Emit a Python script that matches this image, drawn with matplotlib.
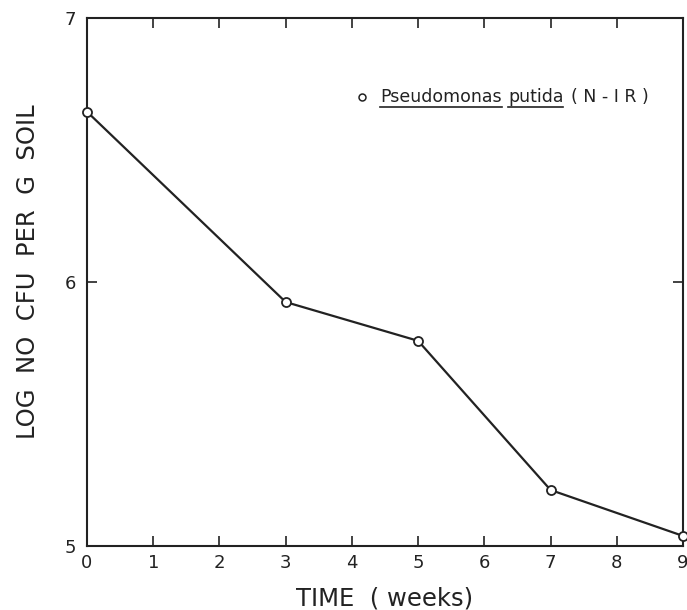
import matplotlib
matplotlib.use("Agg")
import matplotlib.pyplot as plt
from matplotlib.lines import Line2D

weeks = [0, 3, 5, 7, 9]
log_cfu = [6.645, 5.924, 5.777, 5.212, 5.038]
xticks = list(range(0, 10))
yticks = [5, 6, 7]

plt.rcParams['font.family'] = ['DejaVu Sans']

fig = plt.figure(figsize=(6.87, 6.10), dpi=100)
ax = fig.add_axes([0.1266, 0.105, 0.8676, 0.8655])

ax.plot(weeks, log_cfu, color='#222222', lw=1.6, marker='o', ms=6.5,
        mfc='white', mec='#222222', mew=1.3, clip_on=False, zorder=3)

ax.set_xlim(0, 9)
ax.set_ylim(5, 7)
ax.set_xticks(xticks)
ax.set_xticklabels([str(t) for t in xticks])
ax.set_yticks(yticks)
ax.set_yticklabels([str(t) for t in yticks])
ax.tick_params(direction='in', length=7, width=1.2, labelsize=13, color='#222222',
               top=True, right=True, labelcolor='#222222')
ax.tick_params(axis='x', pad=6)
ax.tick_params(axis='y', pad=8)
for s in ax.spines.values():
    s.set_linewidth(1.5)
    s.set_color('#222222')

ax.set_xlabel('TIME  ( weeks)', fontsize=17.5, color='#222222', labelpad=10)
ax.set_ylabel('LOG  NO  CFU  PER  G  SOIL', fontsize=17.5, color='#222222')
ax.yaxis.set_label_coords(-0.078, 0.52)

# legend
leg_y = 6.70
ax.plot([4.15], [leg_y], marker='o', ms=5, mfc='white', mec='#222222', mew=1.1,
        ls='none')
t1 = ax.text(4.43, leg_y, 'Pseudomonas', fontsize=12.5, color='#222222', va='center')
fig.canvas.draw()
r = fig.canvas.get_renderer()
bb1 = t1.get_window_extent(r)
inv = ax.transData.inverted()
x1e = inv.transform((bb1.x1 + 6, bb1.y0))[0]
t2 = ax.text(x1e, leg_y, 'putida', fontsize=12.5, color='#222222', va='center')
fig.canvas.draw()
bb2 = t2.get_window_extent(r)
x2e = inv.transform((bb2.x1 + 8, bb2.y0))[0]
t3 = ax.text(x2e, leg_y, '( N - I R )', fontsize=12.5, color='#222222', va='center')
for bb in (bb1, bb2):
    yline = bb.y0 - 1
    ax.add_line(Line2D([bb.x0, bb.x1], [yline, yline], transform=None,
                       color='#222222', lw=1.2))

fig.savefig('out.png', dpi=100)
